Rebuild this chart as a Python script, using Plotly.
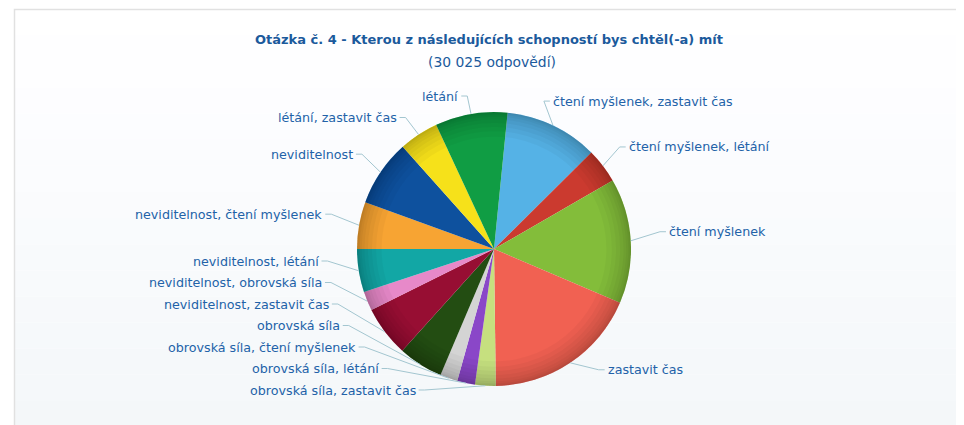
import numpy as np
import plotly.graph_objects as go

labels = [
    "čtení myšlenek, zastavit čas",
    "čtení myšlenek, létání",
    "čtení myšlenek",
    "zastavit čas",
    "obrovská síla, zastavit čas",
    "obrovská síla, létání",
    "obrovská síla, čtení myšlenek",
    "obrovská síla",
    "neviditelnost, zastavit čas",
    "neviditelnost, obrovská síla",
    "neviditelnost, létání",
    "neviditelnost, čtení myšlenek",
    "neviditelnost",
    "létání, zastavit čas",
    "létání",
]
values = [3300, 1230, 4430, 5515, 730, 630, 620, 1590, 1790, 680, 1530, 1660, 2360, 1400, 2560]
colors = [
    "#55b2e6", "#cb3a2f", "#83bd3a", "#f16152", "#c6e07f", "#8a47c8", "#d4d4d4",
    "#234d12", "#970e33", "#e789c9", "#12a7a5", "#f7a433", "#0e519e", "#f6e11a", "#109d44",
]
title_text = "Otázka č. 4 - Kterou z následujících schopností bys chtěl(-a) mít"
subtitle_text = "(30 025 odpovědí)"

# ---- geometry (screen pixels; the page puts the figure at an 8px offset) ----
OFF = 8
W, H = 956, 417
cx, cy, r = 494, 249, 137          # pie centre / radius
rot = 5.7                          # start angle of first slice (deg, clockwise from 12 o'clock)
lab_rx, lab_ry = 167, 155          # label ellipse
lab_shift = -8                     # labels sit a little higher than their natural position
spacing = 21.5
y_min, y_max = 96, 390
LABEL_COLOR = "#2262a8"
TITLE_COLOR = "#1b5a9c"
CONN_COLOR = "#a3c6d0"


def px(x):
    return (x - OFF) / W


def py(y):
    return (OFF + H - y) / H


# slice angles derived from the values
vals = np.asarray(values, dtype=float)
frac = vals / vals.sum()
starts = rot + 360 * np.concatenate([[0.0], np.cumsum(frac)[:-1]])
mids = np.radians(starts + 180 * frac)

rim_x = cx + r * np.sin(mids)
rim_y = cy - r * np.cos(mids)
ideal_y = cy + lab_shift - lab_ry * np.cos(mids)
right_side = np.sin(mids) >= 0

label_y = np.array(ideal_y)
for side in (True, False):
    idx = [i for i in range(len(values)) if right_side[i] == side]
    idx.sort(key=lambda i: ideal_y[i])
    ys = [ideal_y[i] for i in idx]
    for k in range(len(ys)):
        lo = y_min if k == 0 else ys[k - 1] + spacing
        ys[k] = max(ys[k], lo)
    for k in range(len(ys) - 1, -1, -1):
        hi = y_max if k == len(ys) - 1 else ys[k + 1] - spacing
        ys[k] = min(ys[k], hi)
    for i, yv in zip(idx, ys):
        label_y[i] = yv

fig = go.Figure()

# background frame with a soft vertical gradient
shapes = []
n_bands = 16
top, bottom = 9, OFF + H + 2
for b in range(n_bands):
    t = b / (n_bands - 1)
    c = int(round(255 - t * 11))
    c2 = int(round(255 - t * 8))
    y0 = top + (bottom - top) * b / n_bands
    y1 = top + (bottom - top) * (b + 1) / n_bands
    shapes.append(dict(type="rect", xref="x", yref="y", x0=14, x1=OFF + W + 2, y0=y0, y1=y1,
                       line=dict(width=0), fillcolor=f"rgb({c},{c2},{min(255, c2 + 2)})", layer="below"))
shapes.append(dict(type="path", xref="x", yref="y",
                   path=f"M 14.5 {bottom} L 14.5 9.5 L {OFF + W + 2} 9.5",
                   line=dict(color="#e1e1e1", width=1.5), layer="below"))

dom = dict(x=[px(cx - r), px(cx + r)], y=[py(cy + r), py(cy - r)])

fig.add_trace(go.Pie(
    labels=labels,
    values=values,
    sort=False,
    direction="clockwise",
    rotation=rot,
    marker=dict(colors=colors, line=dict(width=0)),
    textinfo="none",
    hoverinfo="label+value+percent",
    showlegend=False,
    domain=dom,
))

# soft darkening near the rim (3D-like shading)
for hole in [0.82, 0.86, 0.89, 0.92, 0.945, 0.965, 0.98, 0.99]:
    fig.add_trace(go.Pie(
        values=[1], hole=hole, sort=False, textinfo="none", hoverinfo="skip",
        marker=dict(colors=["rgba(0,0,0,0.032)"], line=dict(width=0)),
        showlegend=False, domain=dom,
    ))

# invisible pixel-space axes for labels and connectors
fig.add_trace(go.Scatter(x=[], y=[], showlegend=False, hoverinfo="skip"))

annotations = []
for i, lab in enumerate(labels):
    yv = label_y[i]
    dy = yv - cy
    q = max(0.0, 1 - (dy / lab_ry) ** 2)
    dx = lab_rx * np.sqrt(q)
    sgn = 1 if right_side[i] else -1
    xb = cx + sgn * dx
    xe = xb + sgn * 6
    shapes.append(dict(type="path", xref="x", yref="y",
                       path=f"M {rim_x[i]:.2f} {rim_y[i]:.2f} L {xb:.2f} {yv:.2f} L {xe:.2f} {yv:.2f}",
                       line=dict(color=CONN_COLOR, width=1)))
    annotations.append(dict(
        text=lab, x=xe + sgn * 1, y=yv, xref="x", yref="y", showarrow=False,
        xanchor="left" if sgn > 0 else "right", yanchor="middle",
        font=dict(family="DejaVu Sans", size=12.7, color=LABEL_COLOR),
    ))

annotations.append(dict(text="<b>" + title_text + "</b>", x=489, y=39, xref="x", yref="y",
                        showarrow=False, yanchor="middle",
                        font=dict(family="DejaVu Sans", size=13, color=TITLE_COLOR)))
annotations.append(dict(text=subtitle_text, x=492, y=62, xref="x", yref="y",
                        showarrow=False, yanchor="middle",
                        font=dict(family="DejaVu Sans", size=13.9, color=TITLE_COLOR)))

fig.update_layout(
    width=W, height=H,
    margin=dict(l=0, r=0, t=0, b=0),
    paper_bgcolor="#ffffff",
    plot_bgcolor="rgba(0,0,0,0)",
    xaxis=dict(range=[OFF, OFF + W], visible=False, fixedrange=True),
    yaxis=dict(range=[OFF + H, OFF], visible=False, fixedrange=True),
    shapes=shapes,
    annotations=annotations,
    hovermode="closest",
)

fig.write_html("out.html")
